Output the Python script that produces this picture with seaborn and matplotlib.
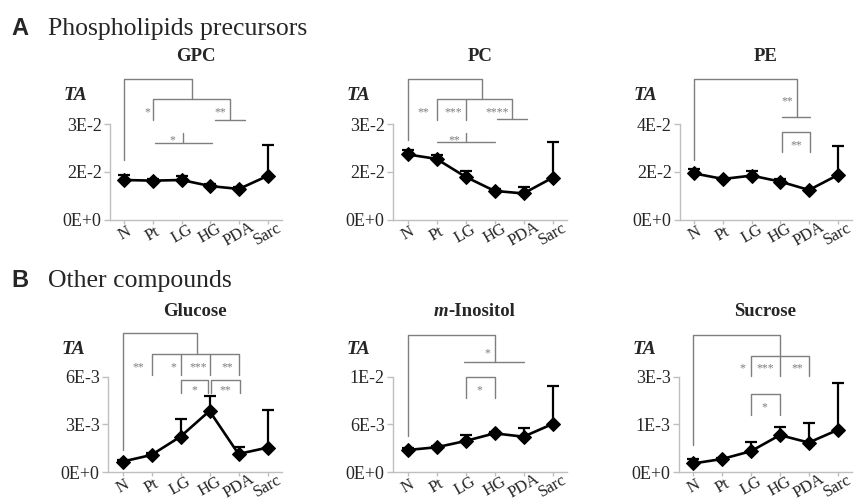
import numpy as np
import pandas as pd
import matplotlib as mpl
mpl.use('Agg')
import matplotlib.pyplot as plt
import matplotlib.transforms as mtrans
import seaborn as sns

# %% data (TA = mean, upper SD bar only)

groups = ['N', 'Pt', 'LG', 'HG', 'PDA', 'Sarc']

gpc_mean = [0.0125, 0.0123, 0.0125, 0.0106, 0.0097, 0.0138]
gpc_err = [0.0015, 0.0004, 0.0011, 0.0005, 0.0007, 0.0096]

pc_mean = [0.0205, 0.0191, 0.0135, 0.0091, 0.0083, 0.0132]
pc_err = [0.0015, 0.0011, 0.0019, 0.0006, 0.0021, 0.0113]

pe_mean = [0.0194, 0.0171, 0.0185, 0.0160, 0.0125, 0.0187]
pe_err = [0.0020, 0.0005, 0.0021, 0.0011, 0.0004, 0.0123]

glu_mean = [0.00067, 0.00109, 0.00224, 0.00385, 0.00115, 0.00155]
glu_err = [0.00013, 0.00011, 0.00108, 0.00094, 0.00042, 0.00236]

ino_mean = [0.0028, 0.00314, 0.00393, 0.00489, 0.00447, 0.00606]
ino_err = [0.0003, 0.0002, 0.00075, 0.0002, 0.00103, 0.00477]

suc_mean = [0.00026, 0.00039, 0.00062, 0.00109, 0.00087, 0.00124]
suc_err = [0.00012, 0.00004, 0.00026, 0.00025, 0.00058, 0.00139]

# y axis ticks and the labels as printed in the figure
gpc_ticks, gpc_labels = [0, 0.015, 0.03], ['0E+0', '2E-2', '3E-2']
pc_ticks, pc_labels = [0, 0.015, 0.03], ['0E+0', '2E-2', '3E-2']
pe_ticks, pe_labels = [0, 0.02, 0.04], ['0E+0', '2E-2', '4E-2']
glu_ticks, glu_labels = [0, 0.003, 0.006], ['0E+0', '3E-3', '6E-3']
ino_ticks, ino_labels = [0, 0.006, 0.012], ['0E+0', '6E-3', '1E-2']
suc_ticks, suc_labels = [0, 0.0014, 0.0028], ['0E+0', '1E-3', '3E-3']

# %% significance brackets: polylines (group index, axes fraction) + star labels

gpc_br = [[(0, 0.625), (0, 1.469), (2.35, 1.469), (2.35, 1.26)],
          [(1.0, 1.042), (1.0, 1.26), (3.69, 1.26), (3.69, 1.042)],
          [(3.17, 1.038), (4.21, 1.038)],
          [(1.08, 0.802), (3.05, 0.802)],
          [(2.06, 0.802), (2.06, 0.91)]]
gpc_st = [(0.80, 1.153, '*'), (3.35, 1.153, '**'), (1.69, 0.868, '*')]

pc_br = [[(0, 0.833), (0, 1.469), (2.58, 1.469), (2.58, 1.26)],
         [(1.0, 1.042), (1.0, 1.26), (3.59, 1.26), (3.59, 1.049)],
         [(2.0, 1.26), (2.0, 1.042)],
         [(3.07, 1.049), (4.11, 1.049)],
         [(1.03, 0.809), (3.0, 0.809)],
         [(2.0, 0.809), (2.0, 0.91)]]
pc_st = [(0.53, 1.156, '**'), (1.57, 1.156, '***'), (3.09, 1.156, '****'), (1.61, 0.868, '**')]

pe_br = [[(0, 0.625), (0, 1.469), (3.57, 1.469), (3.57, 1.076)],
         [(3.06, 1.07), (4.05, 1.07)],
         [(3.06, 0.712), (3.06, 0.913), (4.05, 0.913), (4.05, 0.712)]]
pe_st = [(3.25, 1.267, '**'), (3.57, 0.816, '**')]

glu_br = [[(0, 0.233), (0, 1.454), (2.56, 1.454), (2.56, 1.234)],
          [(1.0, 1.018), (1.0, 1.234), (4.0, 1.234), (4.0, 1.018)],
          [(2.0, 1.234), (2.0, 1.018)],
          [(3.03, 1.234), (3.03, 1.018)],
          [(2.0, 0.83), (2.0, 0.965), (2.96, 0.965), (2.96, 0.83)],
          [(3.06, 0.83), (3.06, 0.965), (4.04, 0.965), (4.04, 0.83)]]
glu_st = [(0.56, 1.13, '**'), (1.74, 1.13, '*'), (2.62, 1.13, '***'), (3.62, 1.13, '**'),
          (2.48, 0.895, '*'), (3.56, 0.895, '**')]

ino_br = [[(0, 0.38), (0, 1.436), (3.02, 1.436), (3.02, 1.157)],
          [(1.96, 1.157), (4.02, 1.157)],
          [(2.0, 0.78), (2.0, 1.0), (3.0, 1.0), (3.0, 0.78)]]
ino_st = [(2.74, 1.279, '*'), (2.47, 0.889, '*')]

suc_br = [[(0, 0.286), (0, 1.436), (3.0, 1.436), (3.0, 1.007)],
          [(2.0, 1.007), (2.0, 1.216), (4.0, 1.216), (4.0, 1.007)],
          [(2.0, 0.6), (2.0, 0.819), (3.0, 0.819), (3.0, 0.6)]]
suc_st = [(1.71, 1.122, '*'), (2.48, 1.122, '***'), (3.59, 1.122, '**'), (2.45, 0.714, '*')]

# %% style

sns.set_style('white')
plt.rcParams['font.family'] = ['Liberation Serif', 'DejaVu Serif']

W, H = 855, 501
fig = plt.figure(figsize=(W / 100, H / 100), dpi=100)

def px_axes(l, t, w, h):
    return fig.add_axes([l / W, 1 - (t + h) / H, w / W, h / H])

GRAY = '#7f7f7f'
SPINE = '#bfbfbf'

def panel(ax, title, mean, err, ticks, labels, brackets, stars, title_y):
    df = pd.DataFrame({'group': groups, 'TA': mean, 'err': err})
    ebar = ax.errorbar(df['group'], df['TA'], yerr=[np.zeros(len(df)), df['err']],
                       fmt='none', ecolor='black', elinewidth=1.6, capsize=4.5,
                       capthick=1.6, zorder=2)
    ebar[1][0].set_visible(False)  # only the upper cap
    sns.lineplot(data=df, x='group', y='TA', ax=ax, color='black', lw=1.9,
                 marker='D', markersize=7.5, markeredgecolor='black', zorder=3)
    ax.set_xlim(-0.5, 5.5)
    ax.set_ylim(0, ticks[-1])
    ax.set_yticks(ticks)
    ax.set_yticklabels(labels)
    ax.set_xlabel('')
    ax.set_ylabel('')
    sns.despine(ax=ax)
    for s in ['left', 'bottom']:
        ax.spines[s].set_color(SPINE)
        ax.spines[s].set_linewidth(1.0)
    ax.tick_params(axis='y', length=4, width=1, color=SPINE, labelsize=13, pad=2, left=True)
    ax.tick_params(axis='x', length=3, width=1, color=SPINE, labelsize=12, pad=7,
                   bottom=True, labelrotation=30)
    for lab in ax.get_xticklabels():
        lab.set_ha('center')
        lab.set_va('center')
        lab.set_rotation_mode('anchor')

    tr = mtrans.blended_transform_factory(ax.transData, ax.transAxes)
    for line in brackets:
        xs, ys = zip(*line)
        ax.plot(xs, ys, color=GRAY, lw=1.0, transform=tr, clip_on=False, zorder=1)
    for x, y, s in stars:
        ax.annotate(s, (x, y), xycoords=tr, xytext=(0, -2.5), textcoords='offset points',
                    ha='center', va='center', fontsize=8.5, color=GRAY, annotation_clip=False)

    ax.text(-0.2, title_y - 0.4, 'TA', transform=ax.transAxes, ha='center', va='center',
            fontsize=14, fontweight='bold', fontstyle='italic')
    if title is not None:
        ax.text(0.5, title_y, title, transform=ax.transAxes, ha='center', va='center',
                fontsize=13.5, fontweight='bold')

# %% row A
ax1 = px_axes(110, 124, 172, 96)
panel(ax1, 'GPC', gpc_mean, gpc_err, gpc_ticks, gpc_labels, gpc_br, gpc_st, 1.70)
ax2 = px_axes(393, 124, 174, 96)
panel(ax2, 'PC', pc_mean, pc_err, pc_ticks, pc_labels, pc_br, pc_st, 1.70)
ax3 = px_axes(680, 124, 172, 96)
panel(ax3, 'PE', pe_mean, pe_err, pe_ticks, pe_labels, pe_br, pe_st, 1.70)

# %% row B
ax4 = px_axes(108, 376.7, 174, 95.6)
panel(ax4, 'Glucose', glu_mean, glu_err, glu_ticks, glu_labels, glu_br, glu_st, 1.68)
ax5 = px_axes(393, 376.7, 174, 95.6)
panel(ax5, None, ino_mean, ino_err, ino_ticks, ino_labels, ino_br, ino_st, 1.68)
m = ax5.text(0.236, 1.68, 'm', transform=ax5.transAxes, ha='left', va='center',
             fontsize=13.5, fontweight='bold', fontstyle='italic')
ax5.annotate('-Inositol', xy=(1, 0), xycoords=m, ha='left', va='bottom',
             fontsize=13.5, fontweight='bold')
ax6 = px_axes(679, 376.7, 173, 95.6)
panel(ax6, 'Sucrose', suc_mean, suc_err, suc_ticks, suc_labels, suc_br, suc_st, 1.68)

# %% section headers
fig.text(11 / W, 1 - 35 / H, 'A', fontsize=17, fontweight='bold', family='Liberation Sans',
         va='baseline')
fig.text(48 / W, 1 - 35 / H, 'Phospholipids precursors', fontsize=18.5, va='baseline')
fig.text(11 / W, 1 - 287 / H, 'B', fontsize=17, fontweight='bold', family='Liberation Sans',
         va='baseline')
fig.text(48 / W, 1 - 287 / H, 'Other compounds', fontsize=18.5, va='baseline')

fig.savefig('out.png', dpi=100)
